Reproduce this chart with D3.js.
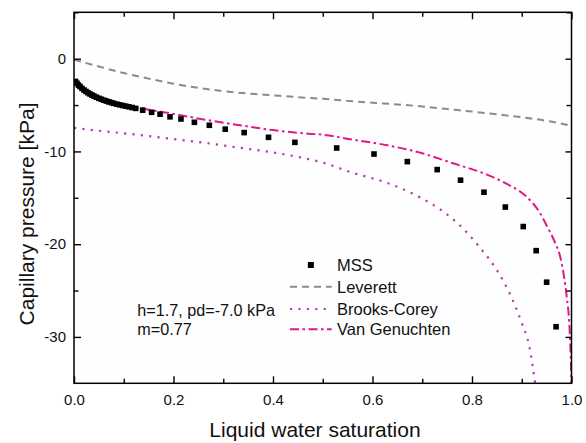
<!DOCTYPE html>
<html>
<head>
<meta charset="utf-8">
<script src="https://cdn.jsdelivr.net/npm/d3@7"></script>
<style>
  html, body { margin: 0; padding: 0; background: #ffffff; }
  svg { display: block; font-family: "Liberation Sans", Arial, Helvetica, sans-serif; }
</style>
</head>
<body>
<svg id="chart" width="586" height="443"></svg>
<script>
// Measured capillary pressure (MSS) versus liquid water saturation
const mssSaturation = [
  0.003, 0.006, 0.009, 0.012, 0.016, 0.020, 0.024, 0.028, 0.032, 0.036,
  0.040, 0.045, 0.050, 0.055, 0.060, 0.065, 0.070, 0.075, 0.080, 0.086,
  0.092, 0.098, 0.104, 0.110, 0.117, 0.124, 0.138, 0.156, 0.173, 0.193,
  0.215, 0.242, 0.272, 0.304, 0.342, 0.391, 0.444, 0.528, 0.603, 0.670,
  0.730, 0.777, 0.824, 0.867, 0.903, 0.929, 0.950, 0.969
];
const mssPressure = [
  -2.45, -2.65, -2.85, -3.00, -3.20, -3.38, -3.53, -3.67, -3.80, -3.92,
  -4.03, -4.15, -4.27, -4.38, -4.48, -4.57, -4.66, -4.74, -4.82, -4.90,
  -4.98, -5.05, -5.12, -5.19, -5.27, -5.36, -5.55, -5.78, -5.98, -6.27,
  -6.50, -6.86, -7.18, -7.60, -7.97, -8.48, -9.02, -9.63, -10.28, -11.10,
  -11.96, -13.10, -14.40, -16.00, -18.10, -20.70, -24.10, -28.90
];

// Leverett model curve
const leverettSaturation = [0, 0.05, 0.10, 0.15, 0.20, 0.25, 0.30, 0.35, 0.40, 0.45, 0.50,
  0.55, 0.60, 0.65, 0.70, 0.75, 0.80, 0.85, 0.90, 0.95, 1.00];
const leverettPressure = [-0.10, -0.85, -1.55, -2.15, -2.70, -3.15, -3.50, -3.75, -3.95, -4.15, -4.33,
  -4.55, -4.75, -4.93, -5.15, -5.43, -5.70, -6.00, -6.32, -6.70, -7.25];

// Brooks-Corey model curve
const brooksSaturation = [0.0, 0.06, 0.126, 0.193, 0.26, 0.327, 0.394, 0.46, 0.50, 0.56, 0.63,
  0.69, 0.74, 0.78, 0.815, 0.85, 0.88, 0.90, 0.915, 0.927];
const brooksPressure = [-7.45, -7.83, -8.19, -8.62, -9.05, -9.56, -10.06, -10.70, -11.20, -12.30, -13.40,
  -14.80, -16.40, -18.20, -20.30, -22.80, -25.80, -28.50, -31.00, -35.00];

// Van Genuchten model curve
const vgSaturation = [0.0, 0.01, 0.03, 0.07, 0.10, 0.15, 0.20, 0.26, 0.33, 0.40, 0.46, 0.50,
  0.56, 0.63, 0.70, 0.76, 0.83, 0.87, 0.91, 0.935, 0.953, 0.965, 0.98, 0.99, 0.996, 0.999, 1.0];
const vgPressure = [-2.45, -2.95, -3.65, -4.45, -4.90, -5.50, -5.95, -6.55, -7.15, -7.70, -8.05, -8.20,
  -8.73, -9.34, -10.20, -11.25, -12.50, -13.50, -14.90, -16.50, -18.30, -19.60, -22.00, -25.50, -29.00, -33.00, -35.00];

// Axis ticks
const xMajorTicks = [0.0, 0.2, 0.4, 0.6, 0.8, 1.0];
const xMinorTicks = [0.1, 0.3, 0.5, 0.7, 0.9];
const yMajorTicks = [0, -10, -20, -30];
const yMinorTicks = [5, -5, -15, -25];

const legendLabels = ["MSS", "Leverett", "Brooks-Corey", "Van Genuchten"];
const noteLines = ["h=1.7, pd=-7.0 kPa", "m=0.77"];

const svg = d3.select("#chart");
const plotLeft = 74, plotRight = 571.5, plotTop = 12.3, plotBottom = 383.3;

const x = d3.scaleLinear().domain([0, 1]).range([plotLeft, plotRight]);
const y = d3.scaleLinear().domain([-35, 5]).range([plotBottom, plotTop]);

svg.append("defs").append("clipPath").attr("id", "plotClip")
  .append("rect").attr("x", plotLeft).attr("y", plotTop)
  .attr("width", plotRight - plotLeft).attr("height", plotBottom - plotTop);

// plot area background
svg.append("rect").attr("x", plotLeft).attr("y", plotTop)
  .attr("width", plotRight - plotLeft).attr("height", plotBottom - plotTop)
  .attr("fill", "#fdfefd");

const styles = {
  leverett: { color: "#8a8a8a", dash: "7,5", width: 2 },
  brooks: { color: "#b53ab8", dash: "2.2,6.2", width: 2.2 },
  vg: { color: "#e3168a", dash: "9,3.5,2.5,3.5", width: 2 }
};

const lineGen = d3.line().x(d => x(d[0])).y(d => y(d[1])).curve(d3.curveMonotoneX);
const plot = svg.append("g").attr("clip-path", "url(#plotClip)");

function drawCurve(xs, ys, st) {
  plot.append("path")
    .datum(d3.zip(xs, ys))
    .attr("d", lineGen)
    .attr("fill", "none")
    .attr("stroke", st.color)
    .attr("stroke-width", st.width)
    .attr("stroke-dasharray", st.dash);
}
drawCurve(leverettSaturation, leverettPressure, styles.leverett);
drawCurve(brooksSaturation, brooksPressure, styles.brooks);
drawCurve(vgSaturation, vgPressure, styles.vg);

// MSS squares
const sq = 5.6;
plot.selectAll("rect.mss")
  .data(d3.zip(mssSaturation, mssPressure))
  .join("rect")
  .attr("class", "mss")
  .attr("x", d => x(d[0]) - sq / 2)
  .attr("y", d => y(d[1]) - sq / 2)
  .attr("width", sq).attr("height", sq)
  .attr("fill", "#000");

// Axes with inward ticks on all four sides
const fmtX = d3.format(".1f");
const fmtY = d => String(d);
function styleAxis(g) {
  g.select(".domain").remove();
  g.selectAll("line").attr("stroke", "#000").attr("stroke-width", 1.4);
  g.selectAll("text").attr("font-size", 15).attr("fill", "#111")
    .attr("font-family", "\"Liberation Sans\", Arial, sans-serif");
}
svg.append("g").attr("transform", `translate(0,${plotBottom})`)
  .call(d3.axisBottom(x).tickValues(xMajorTicks).tickFormat(fmtX).tickSize(-7).tickPadding(11))
  .call(styleAxis);
svg.append("g").attr("transform", `translate(0,${plotBottom})`)
  .call(d3.axisBottom(x).tickValues(xMinorTicks).tickFormat("").tickSize(-4.5))
  .call(styleAxis);
svg.append("g").attr("transform", `translate(0,${plotTop})`)
  .call(d3.axisTop(x).tickValues(xMajorTicks).tickFormat("").tickSize(-7))
  .call(styleAxis);
svg.append("g").attr("transform", `translate(0,${plotTop})`)
  .call(d3.axisTop(x).tickValues(xMinorTicks).tickFormat("").tickSize(-4.5))
  .call(styleAxis);
svg.append("g").attr("transform", `translate(${plotLeft},0)`)
  .call(d3.axisLeft(y).tickValues(yMajorTicks).tickFormat(fmtY).tickSize(-7).tickPadding(8))
  .call(styleAxis);
svg.append("g").attr("transform", `translate(${plotLeft},0)`)
  .call(d3.axisLeft(y).tickValues(yMinorTicks).tickFormat("").tickSize(-4.5))
  .call(styleAxis);
svg.append("g").attr("transform", `translate(${plotRight},0)`)
  .call(d3.axisRight(y).tickValues(yMajorTicks).tickFormat("").tickSize(-6))
  .call(styleAxis);
svg.append("g").attr("transform", `translate(${plotRight},0)`)
  .call(d3.axisRight(y).tickValues(yMinorTicks).tickFormat("").tickSize(-5))
  .call(styleAxis);

// frame
svg.append("rect").attr("x", plotLeft).attr("y", plotTop)
  .attr("width", plotRight - plotLeft).attr("height", plotBottom - plotTop)
  .attr("fill", "none").attr("stroke", "#000").attr("stroke-width", 1.5);

// axis titles
svg.append("text")
  .attr("x", 315).attr("y", 437)
  .attr("text-anchor", "middle")
  .attr("font-size", 21).attr("fill", "#111")
  .text("Liquid water saturation");
svg.append("text")
  .attr("transform", "translate(33.5,214) rotate(-90)")
  .attr("text-anchor", "middle")
  .attr("font-size", 21).attr("fill", "#111")
  .text("Capillary pressure [kPa]");

// legend
const legend = svg.append("g");
const legX0 = 290, legX1 = 331.7, legText = 337;
const rowY = [265, 286.7, 309, 329.3];
legend.append("rect")
  .attr("x", (legX0 + legX1) / 2 - 3).attr("y", rowY[0] - 3)
  .attr("width", 6).attr("height", 6).attr("fill", "#000");
[styles.leverett, styles.brooks, styles.vg].forEach((st, i) => {
  legend.append("line")
    .attr("x1", legX0).attr("x2", legX1)
    .attr("y1", rowY[i + 1]).attr("y2", rowY[i + 1])
    .attr("stroke", st.color).attr("stroke-width", st.width)
    .attr("stroke-dasharray", st.dash);
});
legendLabels.forEach((lab, i) => {
  legend.append("text")
    .attr("x", legText).attr("y", rowY[i] + 5.8)
    .attr("font-size", 16.5).attr("fill", "#111")
    .text(lab);
});

// model parameters note
noteLines.forEach((t, i) => {
  svg.append("text")
    .attr("x", 137.3).attr("y", 315.7 + i * 19.5)
    .attr("font-size", 16.2).attr("fill", "#111")
    .text(t);
});
</script>
</body>
</html>
